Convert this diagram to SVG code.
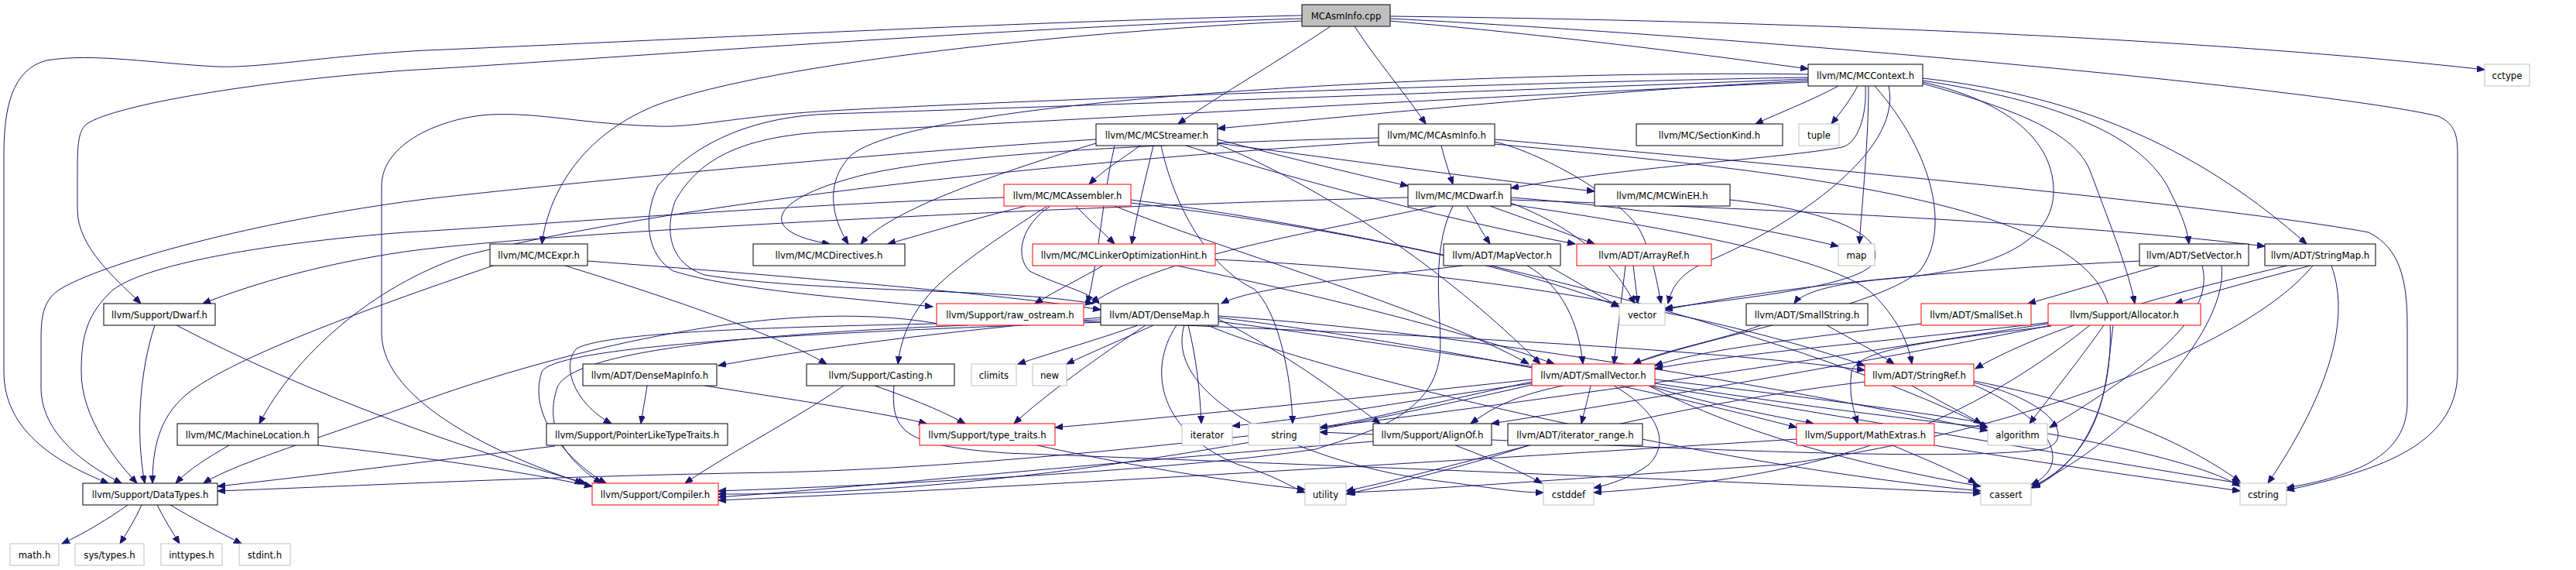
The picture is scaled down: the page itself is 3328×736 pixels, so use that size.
<svg xmlns="http://www.w3.org/2000/svg" width="3328" height="736" viewBox="0 0 3328 736">
<style>
text{font-family:"DejaVu Sans Condensed","Liberation Sans",sans-serif;font-size:13px;fill:#000;text-anchor:middle}
.nd rect{fill:#fff;stroke:#000;stroke-width:1}
.gr rect{fill:#fff;stroke:#bfbfbf;stroke-width:1}
.rd rect{fill:#fff;stroke:#ff0000;stroke-width:1}
.root rect{fill:#bfbfbf;stroke:#000;stroke-width:1}
#edges path{fill:none;stroke:#191970;stroke-width:1;marker-end:url(#a)}
</style>
<defs>
<marker id="a" markerWidth="11" markerHeight="9" refX="10" refY="4" orient="auto" markerUnits="userSpaceOnUse"><path d="M0,0 L10,4 L0,8 z" fill="#191970" stroke="#191970"/></marker>
</defs>
<rect width="3328" height="736" fill="#fff"/>
<g id="edges">
<path d="M1682,20 C1300,28 800,55 550,65 C420,72 340,88 280,86 C200,82 120,68 60,78 C15,90 5,140 5,200 L5,480 C5,560 80,600 140,624"/>
<path d="M1682,24 C1300,35 800,75 523,91 C330,105 150,135 112,160 C100,170 100,190 100,230 L100,270 C100,320 150,360 182,392"/>
<path d="M1682,27 C1400,40 1000,80 850,135 C760,170 710,240 700,315"/>
<path d="M1719,34 C1650,80 1580,120 1522,160"/>
<path d="M1750,34 C1780,80 1815,120 1842,160"/>
<path d="M1796,27 C2000,45 2200,70 2336,89"/>
<path d="M1796,21 C2400,28 2900,55 3210,90"/>
<path d="M1796,24 C2300,50 3000,115 3150,150 C3172,160 3175,175 3175,200 L3175,480 C3175,580 3060,610 2954,633"/>
<path d="M2336,104 C2100,115 1800,145 1573,166"/>
<path d="M2410,111 C2412,150 2400,185 2380,190 C2300,205 2100,215 1952,243"/>
<path d="M2375,111 C2340,130 2300,145 2268,160"/>
<path d="M2400,111 C2390,130 2378,145 2366,160"/>
<path d="M2414,111 C2414,180 2406,260 2402,315"/>
<path d="M2484,104 C2650,130 2760,170 2800,240 C2815,270 2825,290 2828,315"/>
<path d="M2484,101 C2700,125 2850,200 2980,315"/>
<path d="M2484,108 C2600,140 2680,170 2700,220 C2730,300 2750,350 2758,392"/>
<path d="M2484,106 C2590,130 2655,180 2653,250 C2650,320 2560,350 2440,360 C2380,365 2330,375 2318,392"/>
<path d="M2422,111 C2500,200 2520,300 2480,350 C2420,400 2220,430 2110,470"/>
<path d="M2440,111 C2460,200 2300,300 2200,340 C2170,355 2160,370 2155,392"/>
<path d="M2336,100 C2000,105 1300,130 1073,143 C950,150 900,165 850,163 C750,160 700,145 633,148 C570,152 493,185 493,240 L493,430 C493,520 650,590 753,624"/>
<path d="M2336,102 C2000,115 1300,140 1073,147 C980,150 900,180 850,240 C830,280 835,330 870,350 C950,375 1100,385 1205,396"/>
<path d="M2336,106 C2000,120 1300,160 1073,170 C950,176 900,210 872,260 C858,300 866,340 910,355 C1050,378 1300,372 1412,392"/>
<path d="M2336,96 C2000,90 1200,120 1100,200 C1060,240 1080,290 1096,315"/>
<path d="M1473,188 C1450,205 1425,220 1407,238"/>
<path d="M1490,188 C1480,230 1470,270 1462,315"/>
<path d="M1416,185 C1300,220 1150,270 1112,315"/>
<path d="M1573,180 C1650,200 1750,225 1819,240"/>
<path d="M1573,185 C1800,215 1950,235 2060,247"/>
<path d="M1532,188 C1700,240 1900,290 2035,315"/>
<path d="M1573,186 C1750,260 1900,380 1990,470"/>
<path d="M1416,180 C1100,200 700,240 550,257 C330,285 130,340 75,375 C55,390 53,410 53,440 L53,500 C53,560 110,600 157,624"/>
<path d="M1440,188 C1425,250 1420,330 1405,392"/>
<path d="M1500,188 C1520,280 1570,350 1620,373 C1650,400 1668,480 1670,547"/>
<path d="M1862,188 C1866,205 1872,222 1877,238"/>
<path d="M1781,178 C1500,185 1200,200 1100,230 C990,260 980,300 1072,315"/>
<path d="M1781,183 C1200,220 800,280 600,330 C480,370 380,460 335,547"/>
<path d="M1931,183 C2000,200 2100,260 2120,300 C2135,330 2140,360 2146,392"/>
<path d="M1931,186 C2300,220 2700,260 2725,400 C2735,520 2690,600 2626,630"/>
<path d="M1931,180 C2400,220 2900,270 3060,300 C3100,320 3110,360 3110,420 L3110,520 C3110,590 3040,615 2954,630"/>
<path d="M1390,266 C1405,282 1425,300 1440,315"/>
<path d="M1325,266 C1250,285 1200,300 1147,315"/>
<path d="M1297,255 C1000,265 700,290 523,300 C330,315 170,345 140,380 C110,410 105,440 105,480 C105,540 150,595 177,624"/>
<path d="M1353,266 C1300,300 1240,340 1210,370 C1180,400 1165,430 1160,470"/>
<path d="M1357,266 C1320,290 1310,330 1330,350 C1370,370 1405,375 1420,392"/>
<path d="M1461,262 C1700,290 1950,340 2092,396"/>
<path d="M1461,258 C1800,300 2300,420 2568,552"/>
<path d="M1440,266 C1600,330 1850,400 1975,470"/>
<path d="M1895,266 C1905,282 1915,300 1925,315"/>
<path d="M1925,266 C1970,282 2020,300 2060,315"/>
<path d="M1952,255 C2150,270 2300,300 2375,318"/>
<path d="M1952,258 C2300,270 2700,290 2926,318"/>
<path d="M1819,255 C1400,265 700,300 523,325 C420,340 330,365 262,392"/>
<path d="M1855,266 C1700,300 1500,330 1410,392"/>
<path d="M1877,266 C1845,330 1865,420 1860,460 C1850,540 1760,560 1700,580 C1500,610 1100,628 928,634"/>
<path d="M1952,262 C2050,300 2090,350 2112,392"/>
<path d="M1952,264 C2200,300 2380,340 2420,380 C2450,410 2465,440 2470,470"/>
<path d="M2235,258 C2350,270 2440,300 2420,340 C2400,370 2250,385 2151,398"/>
<path d="M640,342 C500,390 300,460 240,510 C205,540 197,580 197,624"/>
<path d="M730,343 C850,380 1000,430 1068,470"/>
<path d="M759,337 C1000,355 1300,380 1422,400"/>
<path d="M1425,343 C1395,360 1365,375 1337,392"/>
<path d="M1520,343 C1700,380 1900,430 2008,470"/>
<path d="M1570,335 C1900,350 2200,400 2409,472"/>
<path d="M1890,343 C1750,360 1620,370 1578,392"/>
<path d="M1973,343 C2020,370 2040,420 2045,470"/>
<path d="M2000,343 C2030,360 2060,378 2092,396"/>
<path d="M2100,343 C2095,385 2090,425 2085,470"/>
<path d="M2110,343 C2112,360 2114,376 2116,392"/>
<path d="M2790,343 C2730,360 2670,378 2620,392"/>
<path d="M2764,337 C2500,350 2300,370 2151,400"/>
<path d="M2845,343 C2860,400 2800,460 2648,552"/>
<path d="M2870,343 C2880,420 2760,560 2626,628"/>
<path d="M2955,343 C2800,380 2650,420 2552,476"/>
<path d="M2985,343 C2920,360 2860,376 2810,392"/>
<path d="M3012,343 C3040,420 3000,520 2930,624"/>
<path d="M2988,343 C2900,450 2600,560 2300,600 C2000,620 1850,632 1741,636"/>
<path d="M200,420 C180,480 175,560 187,624"/>
<path d="M228,420 C400,510 600,580 757,624"/>
<path d="M1212,418 C1000,380 700,460 523,526 C400,570 300,600 263,624"/>
<path d="M1250,420 C1000,430 740,450 720,500 C700,560 740,600 777,624"/>
<path d="M1400,415 C1800,430 2200,450 2409,478"/>
<path d="M1422,410 C1200,430 1050,450 928,472"/>
<path d="M1470,420 C1420,438 1360,455 1315,470"/>
<path d="M1490,420 C1450,438 1410,455 1378,470"/>
<path d="M1480,420 C1420,460 1350,510 1310,547"/>
<path d="M1535,420 C1545,460 1550,500 1552,547"/>
<path d="M1422,413 C1200,420 800,420 745,450 C725,470 740,520 790,547"/>
<path d="M1422,416 C1200,425 720,440 700,480 C680,540 740,600 783,624"/>
<path d="M1574,412 C1650,450 1720,500 1783,547"/>
<path d="M1520,420 C1480,480 1500,560 1600,600 C1650,615 1670,630 1686,636"/>
<path d="M1530,420 C1500,520 1700,600 1850,620 C1930,630 1960,636 1994,636"/>
<path d="M1574,410 C1900,450 2200,520 2321,552"/>
<path d="M1574,408 C1900,430 2300,500 2568,556"/>
<path d="M1560,420 C1700,480 2200,600 2559,634"/>
<path d="M1574,415 C2000,470 2500,560 2894,624"/>
<path d="M2275,420 C2220,440 2150,452 2110,470"/>
<path d="M2360,420 C2390,437 2420,452 2447,470"/>
<path d="M2482,418 C2300,440 2200,452 2138,472"/>
<path d="M2650,416 C2450,440 2250,455 2138,476"/>
<path d="M2650,420 C2400,470 2100,520 1927,547"/>
<path d="M2646,418 C2300,470 1500,600 1000,610 C700,615 450,628 281,634"/>
<path d="M2650,421 C2500,440 2400,450 2392,480 C2388,510 2395,530 2400,547"/>
<path d="M2718,420 C2690,460 2650,510 2622,547"/>
<path d="M2730,420 C2720,500 2720,580 2624,630"/>
<path d="M2700,420 C2500,580 2300,620 2059,636"/>
<path d="M836,498 C834,512 831,527 828,547"/>
<path d="M910,498 C1050,520 1150,535 1197,547"/>
<path d="M1130,498 C1170,512 1210,527 1247,547"/>
<path d="M1090,498 C1030,540 950,580 885,624"/>
<path d="M1155,498 C1150,560 1170,575 1300,585 C1700,600 2200,620 2559,637"/>
<path d="M2055,498 C2052,512 2048,527 2043,547"/>
<path d="M2020,498 C1960,510 1930,525 1900,547"/>
<path d="M1979,490 C1700,520 1500,540 1363,552"/>
<path d="M1979,495 C1800,520 1700,540 1592,550"/>
<path d="M1979,493 C1850,520 1780,540 1705,552"/>
<path d="M2138,495 C2300,520 2450,540 2568,552"/>
<path d="M2130,498 C2250,560 2400,600 2559,628"/>
<path d="M2085,498 C2140,530 2160,570 2130,600 C2110,615 2080,626 2059,630"/>
<path d="M2138,490 C2400,520 2800,570 2894,628"/>
<path d="M1979,497 C1700,560 1300,640 928,638"/>
<path d="M2130,498 C2200,520 2280,535 2343,547"/>
<path d="M2470,498 C2500,515 2530,530 2560,547"/>
<path d="M2550,497 C2650,540 2680,600 2624,626"/>
<path d="M2550,494 C2660,520 2680,570 2640,580 C2500,600 2000,570 1705,558"/>
<path d="M2550,492 C2750,530 2850,590 2894,622"/>
<path d="M2409,493 C2100,530 1900,600 1739,634"/>
<path d="M296,575 C270,590 245,605 227,624"/>
<path d="M411,575 C550,590 680,610 765,628"/>
<path d="M717,576 C600,590 400,615 281,628"/>
<path d="M1340,575 C1500,610 1620,625 1686,632"/>
<path d="M1774,570 C1400,600 1100,630 928,642"/>
<path d="M1880,575 C1920,590 1960,606 1992,624"/>
<path d="M1975,575 C1900,600 1800,625 1739,638"/>
<path d="M2321,567 C1800,600 1300,630 928,646"/>
<path d="M2445,575 C2480,590 2520,606 2553,624"/>
<path d="M2499,575 C2650,600 2800,620 2894,634"/>
<path d="M165,652 C140,670 110,688 80,702"/>
<path d="M183,652 C175,670 165,686 155,702"/>
<path d="M203,652 C212,670 222,686 232,702"/>
<path d="M220,652 C250,670 285,688 312,702"/>
</g>
<g id="n_cpp" class="root"><rect x="1682" y="6" width="114" height="28"/><text x="1739" y="24.5">MCAsmInfo.cpp</text></g>
<g id="n_mccontext" class="nd"><rect x="2336" y="83" width="148" height="28"/><text x="2410" y="101.5">llvm/MC/MCContext.h</text></g>
<g id="n_cctype" class="gr"><rect x="3210" y="83" width="58" height="28"/><text x="3239" y="101.5">cctype</text></g>
<g id="n_mcstreamer" class="nd"><rect x="1416" y="160" width="157" height="28"/><text x="1494.5" y="178.5">llvm/MC/MCStreamer.h</text></g>
<g id="n_mcasminfo" class="nd"><rect x="1781" y="160" width="150" height="28"/><text x="1856" y="178.5">llvm/MC/MCAsmInfo.h</text></g>
<g id="n_sectionkind" class="nd"><rect x="2114" y="160" width="189" height="28"/><text x="2208.5" y="178.5">llvm/MC/SectionKind.h</text></g>
<g id="n_tuple" class="gr"><rect x="2324" y="160" width="52" height="28"/><text x="2350" y="178.5">tuple</text></g>
<g id="n_mcassembler" class="rd"><rect x="1297" y="238" width="164" height="28"/><text x="1379" y="256.5">llvm/MC/MCAssembler.h</text></g>
<g id="n_mcdwarf" class="nd"><rect x="1819" y="238" width="133" height="28"/><text x="1885.5" y="256.5">llvm/MC/MCDwarf.h</text></g>
<g id="n_mcwineh" class="nd"><rect x="2060" y="238" width="175" height="28"/><text x="2147.5" y="256.5">llvm/MC/MCWinEH.h</text></g>
<g id="n_mcexpr" class="nd"><rect x="633" y="315" width="126" height="28"/><text x="696" y="333.5">llvm/MC/MCExpr.h</text></g>
<g id="n_mcdirectives" class="nd"><rect x="973" y="315" width="196" height="28"/><text x="1071" y="333.5">llvm/MC/MCDirectives.h</text></g>
<g id="n_mcloh" class="rd"><rect x="1334" y="315" width="236" height="28"/><text x="1452" y="333.5">llvm/MC/MCLinkerOptimizationHint.h</text></g>
<g id="n_mapvector" class="nd"><rect x="1865" y="315" width="151" height="28"/><text x="1940.5" y="333.5">llvm/ADT/MapVector.h</text></g>
<g id="n_arrayref" class="rd"><rect x="2037" y="315" width="174" height="28"/><text x="2124" y="333.5">llvm/ADT/ArrayRef.h</text></g>
<g id="n_map" class="gr"><rect x="2375" y="315" width="47" height="28"/><text x="2398.5" y="333.5">map</text></g>
<g id="n_setvector" class="nd"><rect x="2764" y="315" width="141" height="28"/><text x="2834.5" y="333.5">llvm/ADT/SetVector.h</text></g>
<g id="n_stringmap" class="nd"><rect x="2926" y="315" width="143" height="28"/><text x="2997.5" y="333.5">llvm/ADT/StringMap.h</text></g>
<g id="n_dwarf" class="nd"><rect x="134" y="392" width="144" height="28"/><text x="206" y="410.5">llvm/Support/Dwarf.h</text></g>
<g id="n_rawostream" class="rd"><rect x="1210" y="392" width="190" height="28"/><text x="1305" y="410.5">llvm/Support/raw_ostream.h</text></g>
<g id="n_densemap" class="nd"><rect x="1422" y="392" width="152" height="28"/><text x="1498" y="410.5">llvm/ADT/DenseMap.h</text></g>
<g id="n_vector" class="gr"><rect x="2092" y="392" width="59" height="28"/><text x="2121.5" y="410.5">vector</text></g>
<g id="n_smallstring" class="nd"><rect x="2256" y="392" width="157" height="28"/><text x="2334.5" y="410.5">llvm/ADT/SmallString.h</text></g>
<g id="n_smallset" class="rd"><rect x="2482" y="392" width="142" height="28"/><text x="2553" y="410.5">llvm/ADT/SmallSet.h</text></g>
<g id="n_allocator" class="rd"><rect x="2646" y="392" width="197" height="28"/><text x="2744.5" y="410.5">llvm/Support/Allocator.h</text></g>
<g id="n_densemapinfo" class="nd"><rect x="753" y="470" width="173" height="28"/><text x="839.5" y="488.5">llvm/ADT/DenseMapInfo.h</text></g>
<g id="n_casting" class="nd"><rect x="1042" y="470" width="191" height="28"/><text x="1137.5" y="488.5">llvm/Support/Casting.h</text></g>
<g id="n_climits" class="gr"><rect x="1255" y="470" width="58" height="28"/><text x="1284" y="488.5">climits</text></g>
<g id="n_new" class="gr"><rect x="1334" y="470" width="44" height="28"/><text x="1356" y="488.5">new</text></g>
<g id="n_smallvector" class="rd"><rect x="1979" y="470" width="159" height="28"/><text x="2058.5" y="488.5">llvm/ADT/SmallVector.h</text></g>
<g id="n_stringref" class="rd"><rect x="2409" y="470" width="141" height="28"/><text x="2479.5" y="488.5">llvm/ADT/StringRef.h</text></g>
<g id="n_machinelocation" class="nd"><rect x="229" y="547" width="182" height="28"/><text x="320" y="565.5">llvm/MC/MachineLocation.h</text></g>
<g id="n_pltt" class="nd"><rect x="706" y="547" width="234" height="28"/><text x="823" y="565.5">llvm/Support/PointerLikeTypeTraits.h</text></g>
<g id="n_typetraits" class="rd"><rect x="1188" y="547" width="175" height="28"/><text x="1275.5" y="565.5">llvm/Support/type_traits.h</text></g>
<g id="n_iterator" class="gr"><rect x="1527" y="547" width="65" height="28"/><text x="1559.5" y="565.5">iterator</text></g>
<g id="n_string" class="gr"><rect x="1613" y="547" width="92" height="28"/><text x="1659" y="565.5">string</text></g>
<g id="n_alignof" class="nd"><rect x="1774" y="547" width="153" height="28"/><text x="1850.5" y="565.5">llvm/Support/AlignOf.h</text></g>
<g id="n_iteratorrange" class="nd"><rect x="1948" y="547" width="174" height="28"/><text x="2035" y="565.5">llvm/ADT/iterator_range.h</text></g>
<g id="n_mathextras" class="rd"><rect x="2321" y="547" width="178" height="28"/><text x="2410" y="565.5">llvm/Support/MathExtras.h</text></g>
<g id="n_algorithm" class="gr"><rect x="2568" y="547" width="77" height="28"/><text x="2606.5" y="565.5">algorithm</text></g>
<g id="n_datatypes" class="nd"><rect x="107" y="624" width="174" height="28"/><text x="194" y="642.5">llvm/Support/DataTypes.h</text></g>
<g id="n_compiler" class="rd"><rect x="765" y="624" width="163" height="28"/><text x="846.5" y="642.5">llvm/Support/Compiler.h</text></g>
<g id="n_utility" class="gr"><rect x="1686" y="624" width="53" height="28"/><text x="1712.5" y="642.5">utility</text></g>
<g id="n_cstddef" class="gr"><rect x="1994" y="624" width="65" height="28"/><text x="2026.5" y="642.5">cstddef</text></g>
<g id="n_cassert" class="gr"><rect x="2559" y="624" width="65" height="28"/><text x="2591.5" y="642.5">cassert</text></g>
<g id="n_cstring" class="gr"><rect x="2894" y="624" width="60" height="28"/><text x="2924" y="642.5">cstring</text></g>
<g id="n_math" class="gr"><rect x="13" y="702" width="63" height="28"/><text x="44.5" y="720.5">math.h</text></g>
<g id="n_systypes" class="gr"><rect x="97" y="702" width="89" height="28"/><text x="141.5" y="720.5">sys/types.h</text></g>
<g id="n_inttypes" class="gr"><rect x="208" y="702" width="79" height="28"/><text x="247.5" y="720.5">inttypes.h</text></g>
<g id="n_stdint" class="gr"><rect x="309" y="702" width="66" height="28"/><text x="342" y="720.5">stdint.h</text></g>
</svg>
